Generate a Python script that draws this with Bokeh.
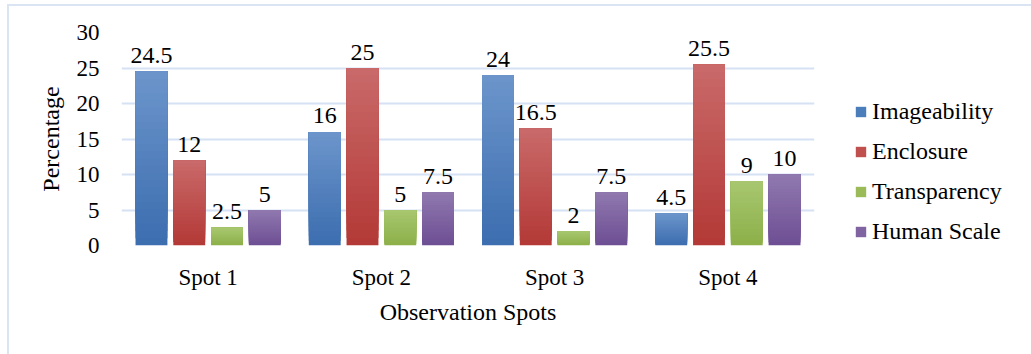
from bokeh.plotting import figure
from bokeh.layouts import row
from bokeh.models import (ColumnDataSource, FactorRange, Range1d, Legend, LegendItem,
                          SingleIntervalTicker)
from bokeh.transform import dodge
from bokeh.core.properties import value
from bokeh.embed import file_html
from bokeh.resources import INLINE

# ---- data -------------------------------------------------------------
spots = ["Spot 1", "Spot 2", "Spot 3", "Spot 4"]
imageability = [24.5, 16, 24, 4.5]
enclosure = [12, 25, 16.5, 25.5]
transparency = [2.5, 5, 2, 9]
human_scale = [5, 7.5, 7.5, 10]

series_names = ["Imageability", "Enclosure", "Transparency", "Human Scale"]
series_values = [imageability, enclosure, transparency, human_scale]

# (top colour, bottom colour) of each series' vertical gradient, plus legend swatch
gradients = [("#6C95CB", "#3C6DAF"),
             ("#C96A6A", "#B33936"),
             ("#A8C770", "#8CAF48"),
             ("#9079AF", "#6D4E93")]
swatches = ["#4A7EBB", "#C0504D", "#9BBB59", "#8064A2"]
offsets = [-0.327, -0.109, 0.109, 0.327]
bar_width = 0.184

FONT = "Liberation Serif"
GRID = "#D6E2F3"
BORDER = "#DAE4F3"
N_SLICES = 24


def hex_to_rgb(h):
    h = h.lstrip("#")
    return tuple(int(h[i:i + 2], 16) for i in (0, 2, 4))


def mix(c_top, c_bot, t):
    a, b = hex_to_rgb(c_top), hex_to_rgb(c_bot)
    r = [round(b[k] + (a[k] - b[k]) * t) for k in range(3)]
    return "#%02x%02x%02x" % tuple(r)


# ---- main chart ---------------------------------------------------------
p = figure(width=831, height=348,
           x_range=FactorRange(*spots, range_padding=0),
           y_range=Range1d(0, 30),
           output_backend="svg", toolbar_location=None,
           min_border_left=112, min_border_right=26,
           min_border_top=26, min_border_bottom=109)
p.outline_line_color = None
p.background_fill_color = "white"
p.border_fill_color = "white"

for name, vals, (ctop, cbot), off in zip(series_names, series_values, gradients, offsets):
    # each bar is a stack of overlapping bands, lighter towards the top,
    # every band reaching the bar's top so no seams show between them
    xs, bottoms, tops, colors = [], [], [], []
    for spot, v in zip(spots, vals):
        for i in range(N_SLICES):
            xs.append(spot)
            bottoms.append(v * i / N_SLICES)
            tops.append(v)
            colors.append(mix(ctop, cbot, (i + 0.5) / N_SLICES))
    src = ColumnDataSource(dict(x=xs, bottom=bottoms, top=tops, color=colors))
    p.vbar(x=dodge("x", off, range=p.x_range), bottom="bottom", top="top",
           width=bar_width, source=src, fill_color="color", line_color=None)

    lab_src = ColumnDataSource(dict(x=spots, y=vals,
                                    t=[("%g" % v) for v in vals]))
    p.text(x=dodge("x", off, range=p.x_range), y="y", text="t", source=lab_src,
           text_font=value(FONT), text_font_size="24px", text_color="black",
           text_align="center", text_baseline="alphabetic", y_offset=-16)

p.yaxis.ticker = SingleIntervalTicker(interval=5)
p.ygrid.grid_line_color = GRID
p.ygrid.grid_line_width = 2
p.xgrid.grid_line_color = None
for ax in (p.xaxis[0], p.yaxis[0]):
    ax.axis_line_color = None
    ax.major_tick_line_color = None
    ax.minor_tick_line_color = None
    ax.major_tick_in = 0
    ax.major_tick_out = 0
    ax.minor_tick_out = 0
    ax.major_label_text_font = FONT
    ax.major_label_text_font_size = "23px"
    ax.major_label_text_color = "black"
    ax.axis_label_text_font = FONT
    ax.axis_label_text_font_size = "24px"
    ax.axis_label_text_font_style = "normal"
    ax.axis_label_text_color = "black"

p.xaxis.axis_label = "Observation Spots"
p.yaxis.axis_label = "Percentage"
p.yaxis.major_label_standoff = 22
p.yaxis.axis_label_standoff = 10
p.xaxis.major_label_standoff = 19
p.xaxis.axis_label_standoff = 6

# ---- legend panel -------------------------------------------------------
lg = figure(width=191, height=348, output_backend="svg", toolbar_location=None,
            x_range=Range1d(0, 1), y_range=Range1d(0, 1),
            min_border_left=0, min_border_right=0, min_border_top=0,
            min_border_bottom=0, x_axis_type=None, y_axis_type=None)
lg.outline_line_color = None
lg.grid.visible = False
lg.background_fill_color = "white"
lg.border_fill_color = "white"

items = []
for name, sw in zip(series_names, swatches):
    # zero-height placeholder bar that only carries the swatch colour
    r = lg.vbar(x=[0.5], bottom=[0], top=[0], width=0.1, fill_color=sw, line_color=None)
    items.append(LegendItem(label=name, renderers=[r]))

legend = Legend(items=items, location=(14, 0),
                glyph_width=13, glyph_height=13, label_height=13,
                label_standoff=5, spacing=13, padding=0, margin=0,
                border_line_color=None, background_fill_alpha=0,
                label_text_font=FONT, label_text_font_size="24px",
                label_text_color="black")
lg.add_layout(legend, "center")

layout = row(p, lg, spacing=0)
layout.margin = (4, 0, 0, 7)
layout.styles = {"border-top": f"2px solid {BORDER}", "border-left": f"2px solid {BORDER}"}

open("out.html", "w").write(file_html(layout, INLINE))
